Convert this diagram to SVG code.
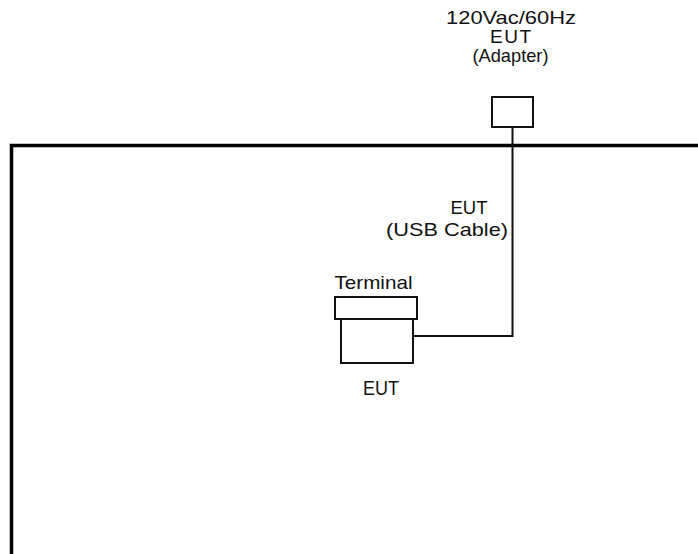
<svg xmlns="http://www.w3.org/2000/svg" width="698" height="554" viewBox="0 0 698 554">
<style>
text{font-family:"Liberation Sans",Arial,sans-serif;font-size:19px;fill:#111;text-anchor:middle}
.big{font-size:21px}
.box{fill:#fff;stroke:#111;stroke-width:2}
.wire{fill:none;stroke:#111;stroke-width:2}
.wall{fill:none;stroke:#000;stroke-width:3.5}
</style>
<rect width="698" height="554" fill="#fff"/>
<g id="room">
<path class="wall" d="M698,145.5 H11.5 V554"/>
</g>
<g id="connectors">
<path class="wire" d="M512.5,127 V336 H413"/>
</g>
<g id="adapter">
<text x="511" y="24" textLength="130" lengthAdjust="spacingAndGlyphs">120Vac/60Hz</text>
<text x="510.5" y="43" textLength="41" lengthAdjust="spacing">EUT</text>
<text x="510.5" y="62" textLength="76" lengthAdjust="spacingAndGlyphs">(Adapter)</text>
<rect class="box" x="492" y="97" width="41" height="30"/>
</g>
<g id="usb-cable">
<text x="469" y="214" textLength="37" lengthAdjust="spacingAndGlyphs">EUT</text>
<text x="447" y="236" textLength="122" lengthAdjust="spacingAndGlyphs">(USB Cable)</text>
</g>
<g id="eut">
<text x="373.5" y="289" textLength="78" lengthAdjust="spacingAndGlyphs">Terminal</text>
<path class="box" d="M341,319 V363 H413 V319"/>
<rect class="box" x="335" y="297" width="82" height="22"/>
<text class="big" x="381" y="395" textLength="36" lengthAdjust="spacingAndGlyphs">EUT</text>
</g>
</svg>
